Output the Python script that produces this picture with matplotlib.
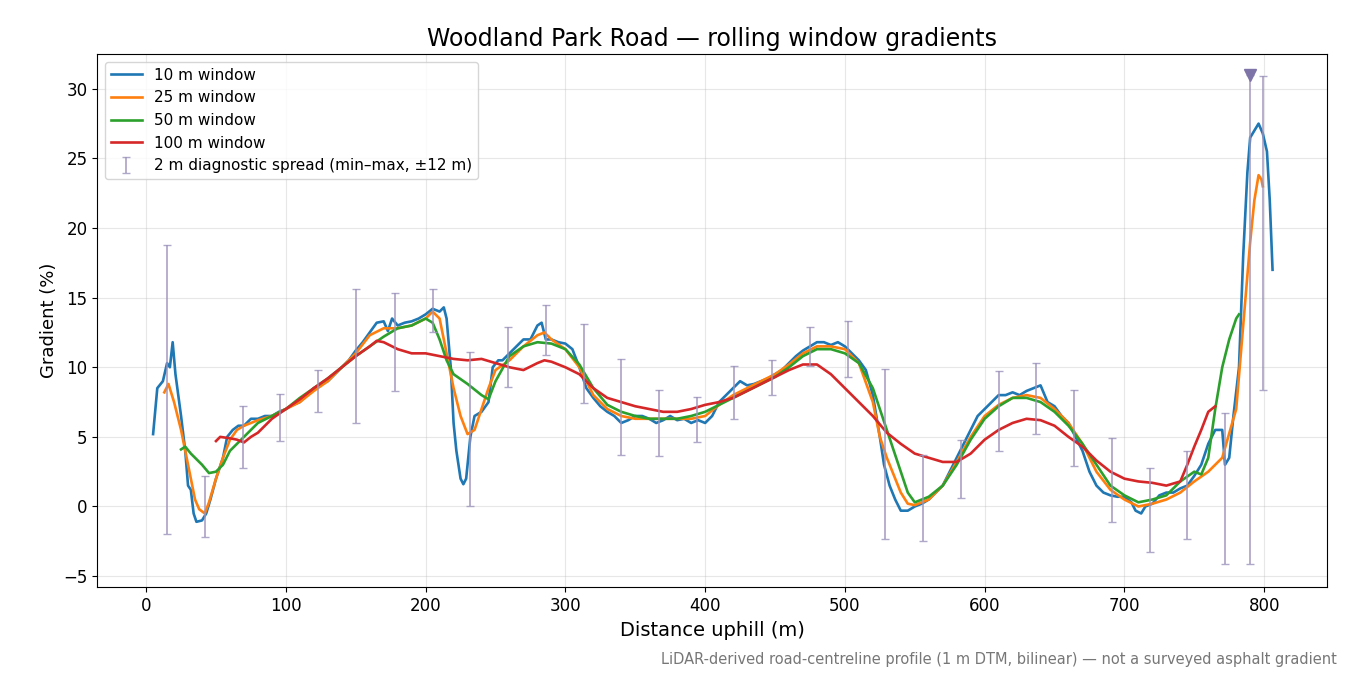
import numpy as np
import matplotlib
matplotlib.use("Agg")
import matplotlib.pyplot as plt

x10 = [5,8,12,15,17,19,21,25,28,30,32,34,36,40,43,46,50,55,58,62,66,70,75,80,85,90,95,100,105,110,115,120,125,130,135,140,145,150,155,160,165,170,173,176,180,185,190,195,200,205,210,213,215,218,220,222,225,227,229,232,235,240,245,248,252,255,260,265,270,275,280,283,286,290,295,300,305,310,315,320,325,330,335,340,345,350,355,360,365,370,375,380,385,390,395,400,405,410,415,420,425,430,435,440,445,450,455,460,465,470,475,480,485,490,495,500,505,510,515,520,525,528,532,536,540,545,550,555,560,565,570,575,580,585,590,595,600,605,610,615,620,625,630,635,640,645,650,655,660,665,670,675,680,685,690,695,700,705,708,712,715,720,725,730,735,740,745,750,755,760,765,770,772,775,778,782,785,788,790,793,796,799,802,804,806]
y10 = [5.2,8.5,9.0,10.3,10.0,11.8,9.5,6.5,4,1.5,1.2,-0.5,-1.1,-1.0,-0.5,0.5,2.0,3.5,5.0,5.5,5.8,5.8,6.3,6.3,6.5,6.5,6.8,7.0,7.3,7.5,8.0,8.5,8.8,9.0,9.5,10.0,10.5,11.2,11.8,12.5,13.2,13.3,12.6,13.5,13.0,13.2,13.3,13.5,13.8,14.2,14.0,14.3,13.5,10,6,4,2,1.6,2.0,5,6.5,6.8,7.5,10,10.5,10.5,11.0,11.5,12.0,12.0,13.0,13.2,12.0,12.0,11.8,11.7,11.3,10,8.5,7.8,7.2,6.8,6.5,6.0,6.2,6.5,6.5,6.3,6.0,6.2,6.5,6.2,6.3,6.0,6.2,6.0,6.5,7.5,8.0,8.5,9.0,8.7,8.8,9.0,9.2,9.5,9.8,10.3,10.8,11.2,11.5,11.8,11.8,11.6,11.8,11.5,11.0,10.5,9.8,8,5,3,1.5,0.5,-0.3,-0.3,0,0.2,0.5,1.0,1.5,2.5,3.5,4.5,5.5,6.5,7.0,7.5,8.0,8.0,8.2,8.0,8.3,8.5,8.7,7.5,7.2,6.5,6.0,5.0,4.0,2.5,1.5,1.0,0.8,0.7,0.7,0.3,-0.3,-0.5,0,0.2,0.8,1.0,1.0,1.3,1.5,2.2,3.0,4.5,5.5,5.5,3,3.5,6.5,10,18,24,26.5,27,27.5,26.8,25.5,22,17]

x25 = [13,16,20,25,30,35,38,42,45,50,55,60,65,70,80,90,100,110,120,130,140,150,160,170,180,190,200,205,210,215,220,225,230,235,240,245,250,260,270,280,285,290,300,310,320,330,340,350,360,370,380,390,400,410,420,430,440,450,460,470,480,490,500,510,520,525,530,540,545,550,560,570,580,590,600,610,620,630,640,650,660,670,680,690,700,710,720,730,740,750,760,770,780,785,790,793,796,798,799]
y25 = [8.2,8.8,7.5,5.5,3,0.5,-0.2,-0.5,0.3,2,3.5,4.8,5.5,5.8,6.2,6.5,7.0,7.5,8.3,9.0,10.0,11.0,12.3,12.8,12.8,13.0,13.5,14.0,13.5,11.0,8.5,6.5,5.2,5.5,7.0,8.5,9.8,10.5,11.5,12.3,12.5,12.0,11.3,10.0,8.0,7.0,6.5,6.3,6.3,6.3,6.3,6.3,6.5,7.3,8.0,8.5,9.0,9.5,10.2,11.0,11.5,11.5,11.3,10.3,7.5,5.0,3.5,1.0,0.2,0.1,0.5,1.5,3.2,5.0,6.5,7.3,7.8,8.0,7.8,7.0,6.0,4.5,2.5,1.2,0.5,0.0,0.2,0.5,1.0,1.8,2.5,3.5,7,13,19,22,23.8,23.5,23.0]

x50 = [25,28,32,40,45,50,55,60,70,80,90,100,110,120,130,140,150,160,170,180,190,200,205,210,215,220,230,240,245,250,260,270,280,290,300,310,320,330,340,350,360,370,380,390,400,410,420,430,440,450,460,470,480,490,500,510,520,530,540,545,550,560,570,580,590,600,610,620,630,640,650,660,670,680,690,700,710,720,730,740,750,755,760,765,770,775,780,782]
y50 = [4.1,4.3,3.8,3.0,2.4,2.5,3,4,5,6,6.5,7.0,7.8,8.5,9.2,10.0,10.8,11.5,12.2,12.8,13.0,13.5,13.2,12.0,10.5,9.5,8.8,8.0,7.7,9,10.8,11.5,11.8,11.7,11.3,10.2,8.5,7.3,6.8,6.5,6.3,6.3,6.3,6.5,6.8,7.3,7.8,8.3,8.8,9.3,10.0,10.8,11.3,11.3,11.0,10.3,8.5,5.5,2.5,1.0,0.3,0.7,1.5,3.0,4.8,6.3,7.2,7.8,7.8,7.5,6.8,5.8,4.5,3.0,1.5,0.8,0.3,0.5,0.8,1.8,2.5,2.3,3.5,7,10,12,13.5,13.8]

x100 = [50,53,60,65,70,75,80,90,100,110,120,130,140,150,160,165,170,180,190,200,210,220,230,240,250,260,270,280,285,290,300,310,320,330,340,350,360,370,380,390,400,410,420,430,440,450,460,470,480,490,500,510,520,530,540,550,560,570,580,590,600,610,620,630,640,650,660,670,680,690,700,710,720,730,740,745,750,755,760,765]
y100 = [4.7,5.0,4.9,4.8,4.6,5.0,5.3,6.3,7.0,7.7,8.5,9.2,10.0,10.8,11.5,11.9,11.8,11.3,11.0,11.0,10.8,10.6,10.5,10.6,10.3,10.0,9.8,10.3,10.5,10.4,10.0,9.5,8.5,7.8,7.5,7.2,7.0,6.8,6.8,7.0,7.3,7.5,7.8,8.3,8.8,9.3,9.8,10.2,10.2,9.5,8.5,7.5,6.5,5.3,4.5,3.8,3.5,3.2,3.2,3.8,4.8,5.5,6.0,6.3,6.2,5.8,5.0,4.3,3.3,2.5,2.0,1.8,1.7,1.5,1.8,3,4.3,5.5,6.8,7.2]

spread_x = [15,42,69,96,123,150,178,205,232,259,286,313,340,367,394,421,448,475,502,529,556,583,610,637,664,691,718,745,772,790,799]
spread_lo = [-2.0,-2.2,2.8,4.7,6.8,6.0,8.3,12.5,0.0,8.6,10.9,7.4,3.7,3.6,4.6,6.3,8.0,10.1,9.3,-2.3,-2.5,0.6,4.0,5.2,2.9,-1.1,-3.3,-2.3,-4.1,-4.1,8.4]
spread_hi = [18.8,2.2,7.2,8.1,9.8,15.6,15.3,15.6,11.1,12.9,14.5,13.1,10.6,8.4,7.9,10.1,10.5,12.9,13.3,9.9,3.7,4.8,9.7,10.3,8.4,4.9,2.8,4.0,6.7,31.0,30.9]
peak_x = [790]
peak_y = [31.0]

fig, ax = plt.subplots(figsize=(13.5, 6.75), dpi=100)
ax.plot(x10, y10, color='#1f77b4', lw=1.9, label='10 m window')
ax.plot(x25, y25, color='#ff7f0e', lw=1.9, label='25 m window')
ax.plot(x50, y50, color='#2ca02c', lw=1.9, label='50 m window')
ax.plot(x100, y100, color='#d62728', lw=1.9, label='100 m window')
lo = np.array(spread_lo); hi = np.array(spread_hi)
mid = (lo + hi) / 2
ax.errorbar(spread_x, mid, yerr=[mid - lo, hi - mid], fmt='none', ecolor='#9d93bb', alpha=0.8,
            elinewidth=1.3, capsize=3, label='2 m diagnostic spread (min–max, ±12 m)')
ax.plot(peak_x, peak_y, marker='v', color='#7f74a8', ms=8, ls='none')

ax.set_xlim(-35, 845)
ax.set_ylim(-5.8, 32.5)
ax.set_xticks(range(0, 801, 100))
ax.set_yticks(range(-5, 31, 5))
ax.grid(True, alpha=0.3)
ax.tick_params(labelsize=12)
ax.set_xlabel('Distance uphill (m)', fontsize=14)
ax.set_ylabel('Gradient (%)', fontsize=13)
ax.set_title('Woodland Park Road — rolling window gradients', fontsize=17)
ax.legend(loc='upper left', fontsize=11)
fig.subplots_adjust(left=0.072, right=0.983, top=0.92, bottom=0.13)
fig.text(0.99, 0.012, 'LiDAR-derived road-centreline profile (1 m DTM, bilinear) — not a surveyed asphalt gradient',
         ha='right', va='bottom', fontsize=10.5, color='#777777')
fig.savefig('out.png')
